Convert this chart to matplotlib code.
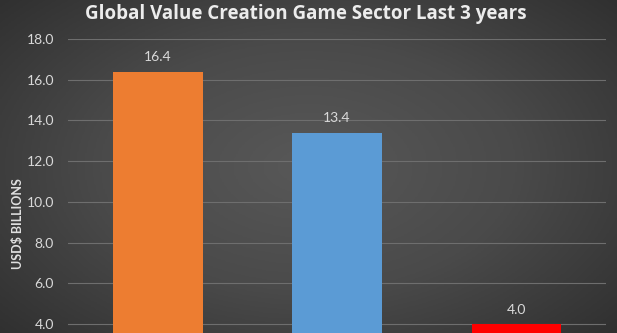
import numpy as np
import matplotlib.pyplot as plt
from matplotlib.colors import LinearSegmentedColormap

# values per year (USD billions)
years = ['Year 1', 'Year 2', 'Year 3']
values = [16.4, 13.4, 4.0]
bar_colors = ['#ED7D31', '#5B9BD5', '#FF0000']
y_ticks = [4.0, 6.0, 8.0, 10.0, 12.0, 14.0, 16.0, 18.0]

plt.rcParams['font.family'] = ['Lato', 'DejaVu Sans']

W, H = 617, 333
fig = plt.figure(figsize=(W / 100, H / 100), dpi=100)

# dark radial background
bg = fig.add_axes([0, 0, 1, 1], zorder=-10)
xx, yy = np.meshgrid(np.linspace(-1, 1, 400), np.linspace(-1, 1, 220))
r = np.sqrt(xx ** 2 + (yy * 0.9) ** 2)
cmap = LinearSegmentedColormap.from_list('bg', ['#585858', '#4a4a4a', '#303030'])
bg.imshow(r, cmap=cmap, aspect='auto', extent=[0, 1, 0, 1], vmin=0, vmax=1.35)
bg.axis('off')

# plot area: 18.0 gridline near the top, the lower part runs off the bottom edge
ax = fig.add_axes([68 / W, 0, 538 / W, (H - 39) / H])
ax.patch.set_alpha(0)
x = np.arange(len(years))
ax.bar(x, values, width=0.5, color=bar_colors, zorder=3)
for xi, v in zip(x, values):
    ax.annotate(f'{v:.1f}', (xi, v), xytext=(0, 6), textcoords='offset points',
                ha='center', va='bottom', color='#d9d9d9', fontsize=10)

ax.set_xlim(-0.5, 2.5)
ax.set_ylim(3.56, 18.0)
ax.set_yticks(y_ticks)
ax.set_yticklabels([f'{t:.1f}' for t in y_ticks], color='#d9d9d9', fontsize=10)
ax.tick_params(axis='y', length=0, pad=10)
ax.set_xticks([])
ax.yaxis.grid(True, color='#6e6e6e', linewidth=0.8, zorder=0)
for s in ax.spines.values():
    s.set_visible(False)

fig.text(18 / W, 1 - 224 / H, 'USD$ BILLIONS', rotation=90, ha='center', va='center',
         color='#e0e0e0', fontsize=9, fontweight='bold')
fig.text(306 / W, 1 - 14 / H, 'Global Value Creation Game Sector Last 3 years',
         ha='center', va='center', color='#ececec', fontsize=13.5,
         fontweight='bold', family=['Open Sans', 'DejaVu Sans'])

fig.savefig('out.png', dpi=100)
